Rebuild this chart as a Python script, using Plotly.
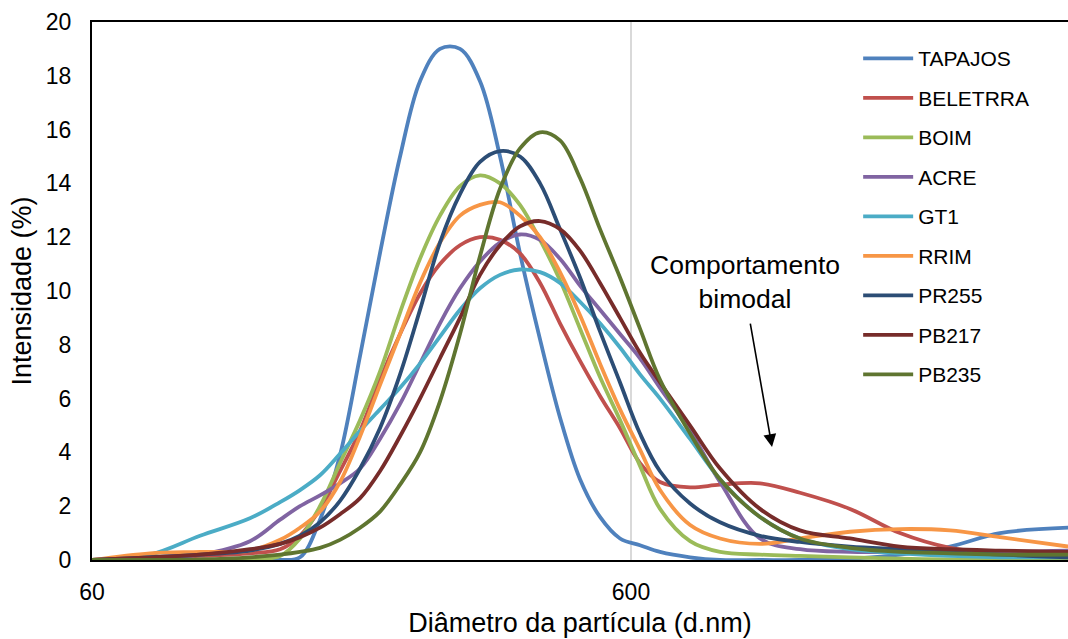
import math
import plotly.graph_objects as go

# Diameter grid (d.nm)
diametro = [60, 76.9, 95.2, 117.8, 134.0, 145.9, 158.9, 173.1, 188.6, 205.3, 223.7,
            243.6, 265.3, 289.0, 314.8, 342.9, 373.4, 406.8, 443.0, 482.6, 525.6,
            572.5, 623.5, 679.2, 772.3, 877.7, 1041, 1235, 1529, 1893, 2344, 2902, 3882]

TAPAJOS = [0, 0, 0, 0, 0, 0.1, 1.5, 3.9, 7.6, 11.4, 15.0, 17.8, 19.0, 19.0, 17.8, 15.0,
           11.4, 8.2, 5.3, 3.0, 1.6, 0.8, 0.55, 0.3, 0.1, 0.0, 0, 0, 0.05, 0.2, 0.5, 1.0, 1.2]
BELETRRA = [0, 0.1, 0.15, 0.25, 0.4, 0.9, 1.9, 3.3, 4.8, 6.7, 8.4, 9.9, 11.0, 11.7, 12.0, 11.9,
            11.4, 10.3, 8.8, 7.4, 6.1, 4.9, 3.6, 2.9, 2.7, 2.8, 2.85, 2.5, 1.9, 1.0, 0.45, 0.25, 0.3]
BOIM = [0, 0, 0, 0.02, 0.15, 0.8, 2.0, 3.6, 5.2, 7.0, 9.2, 11.2, 12.8, 13.9, 14.3, 14.0,
        13.2, 11.9, 10.4, 8.6, 6.8, 5.2, 3.5, 1.9, 0.7, 0.3, 0.2, 0.15, 0.1, 0.05, 0.02, 0, 0]
ACRE = [0, 0.05, 0.2, 0.7, 1.5, 2.0, 2.4, 2.85, 3.4, 4.5, 5.8, 7.3, 8.8, 10.1, 11.1, 11.8,
        12.1, 11.9, 11.2, 10.2, 9.3, 8.4, 7.5, 6.4, 4.8, 2.9, 0.8, 0.4, 0.3, 0.3, 0.3, 0.3, 0.35]
GT1 = [0, 0.2, 0.9, 1.55, 2.15, 2.6, 3.15, 3.95, 4.8, 5.6, 6.4, 7.3, 8.3, 9.3, 10.1, 10.6,
       10.8, 10.7, 10.3, 9.6, 8.8, 7.9, 6.9, 6.0, 4.5, 3.0, 1.6, 0.8, 0.4, 0.25, 0.15, 0.1, 0.1]
RRIM = [0, 0.25, 0.3, 0.35, 0.75, 1.2, 1.8, 2.9, 4.6, 6.5, 8.4, 10.3, 11.8, 12.8, 13.2, 13.3,
        12.8, 12.0, 10.7, 9.1, 7.3, 5.6, 4.1, 2.6, 1.3, 0.8, 0.6, 0.8, 1.05, 1.15, 1.1, 0.85, 0.5]
PR255 = [0, 0.1, 0.2, 0.35, 0.6, 0.9, 1.4, 2.2, 3.4, 4.9, 6.9, 9.3, 11.8, 13.6, 14.8, 15.2,
         15.0, 14.0, 12.3, 10.5, 8.5, 6.6, 4.7, 3.3, 2.1, 1.4, 0.9, 0.67, 0.5, 0.4, 0.3, 0.2, 0.1]
PB217 = [0, 0.1, 0.2, 0.4, 0.6, 0.85, 1.2, 1.7, 2.3, 3.3, 4.6, 6.0, 7.5, 9.0, 10.6, 11.7,
         12.4, 12.6, 12.3, 11.5, 10.3, 9.0, 7.7, 6.6, 5.0, 3.4, 1.9, 1.1, 0.8, 0.5, 0.4, 0.35, 0.3]
PB235 = [0, 0, 0.02, 0.1, 0.2, 0.3, 0.45, 0.75, 1.2, 1.8, 2.8, 4.0, 5.9, 8.4, 11.3, 13.8,
         15.3, 15.9, 15.6, 14.2, 12.3, 10.5, 8.6, 6.7, 4.7, 3.0, 1.6, 0.8, 0.45, 0.3, 0.25, 0.2, 0.2]

series_names = ["TAPAJOS", "BELETRRA", "BOIM", "ACRE", "GT1", "RRIM", "PR255", "PB217", "PB235"]
series_values = [TAPAJOS, BELETRRA, BOIM, ACRE, GT1, RRIM, PR255, PB217, PB235]
colors = ["#4F81BD", "#C0504D", "#9BBB59", "#8064A2", "#4BACC6",
          "#F79646", "#2C4D75", "#772C2A", "#5F7530"]

x_ticks = [60, 600]
x_ticktext = ["60", "600"]
y_ticks = list(range(0, 21, 2))

FONT = "Liberation Sans, Arial, sans-serif"

fig = go.Figure()
for name, vals, col in zip(series_names, series_values, colors):
    fig.add_trace(go.Scatter(
        x=diametro, y=vals, name=name, mode="lines",
        line=dict(color=col, width=3.8, shape="spline", smoothing=1.0),
        legendgroup=name,
    ))

fig.update_layout(
    width=1068, height=639,
    margin=dict(l=92, r=0, t=22, b=79),
    paper_bgcolor="white", plot_bgcolor="white",
    font=dict(family=FONT, color="black"),
    showlegend=True,
    legend=dict(
        x=0.785, y=0.97, xanchor="left", yanchor="top",
        font=dict(family=FONT, size=21, color="black"),
        bgcolor="rgba(0,0,0,0)", borderwidth=0,
        tracegroupgap=9.2, itemwidth=50,
    ),
)

fig.update_xaxes(
    type="log",
    range=[math.log10(60), 3.5889],
    tickvals=x_ticks, ticktext=x_ticktext,
    showgrid=True, gridcolor="#D9D9D9", gridwidth=2,
    showline=True, linecolor="black", linewidth=2, mirror=True,
    ticks="", ticklabelstandoff=10,
    tickfont=dict(family=FONT, size=23, color="black"),
    title=dict(text="Diâmetro da partícula (d.nm)",
               font=dict(family=FONT, size=27, color="black"), standoff=10),
    zeroline=False,
)
fig.update_yaxes(
    range=[0, 20], tickvals=y_ticks,
    showgrid=False, zeroline=False,
    showline=True, linecolor="black", linewidth=2,
    ticks="", ticklabelstandoff=14,
    tickfont=dict(family=FONT, size=23, color="black"),
    title=dict(text="Intensidade (%)",
               font=dict(family=FONT, size=27, color="black"), standoff=6),
)

# Annotation: bimodal behaviour
fig.add_annotation(
    x=math.log10(976), y=10.35, xref="x", yref="y",
    text="Comportamento<br>bimodal", showarrow=False,
    font=dict(family=FONT, size=26.5, color="black"), align="center",
)
fig.add_annotation(
    x=math.log10(1096), y=4.2, xref="x", yref="y",
    ax=-22, ay=-125, text="", showarrow=True,
    arrowhead=2, arrowsize=1.6, arrowwidth=1.6, arrowcolor="black",
)

fig.write_html("out.html")
